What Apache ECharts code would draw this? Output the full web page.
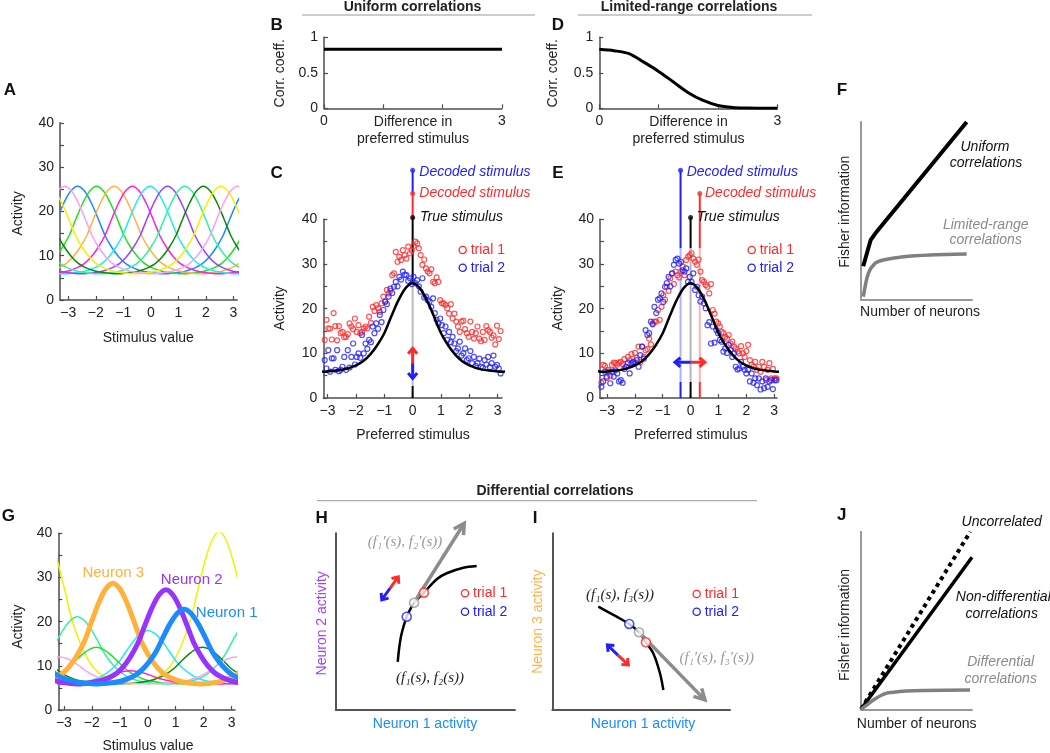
<!DOCTYPE html>
<html><head><meta charset="utf-8">
<script src="https://cdn.jsdelivr.net/npm/echarts@6/dist/echarts.min.js"></script>
<style>html,body{margin:0;padding:0;background:#fff}#c{width:1050px;height:753px}</style>
</head><body><div id="c"></div>
<script>
// ---------------- DATA ----------------
// shared tuning-curve profile: activity read at offsets from the preferred stimulus
const OFFS    = [0, 0.25, 0.5, 0.75, 1, 1.25, 1.5, 1.75, 2, 2.25, 2.5, 2.75, 3, 3.14];
const PROFILE = [25.7, 24.6, 21.9, 18.3, 14.5, 11.8, 9.7, 8.2, 7.3, 6.7, 6.3, 6.1, 5.95, 5.9];
const BASE = 5.9, PEAK0 = 25.7;

// Panel A
const A_CENTERS = [-2.66, -1.97, -1.33, -0.67, -0.03, 0.61, 1.24, 1.91, 2.55, 3.15];
const A_PEAKS   = [25.7, 25.7, 25.7, 25.7, 25.7, 25.7, 25.7, 25.7, 25.7, 25.7];
const STIM_TICKS = [-3, -2, -1, 0, 1, 2, 3];
const ACT_TICKS = [0, 5, 10, 15, 20, 25, 30, 35, 40];
const ACT_LABELS = [0, 10, 20, 30, 40];

// Panels B and D
const CORR_TICKS = [0, 0.5, 1];
const DIFF_TICKS = [0, 1, 2, 3];
const DIFF_LABELS = [0, 3];
const B_X = [0, 3];
const B_Y = [0.83, 0.83];
const D_X = [0, 0.25, 0.5, 0.75, 1, 1.25, 1.5, 1.75, 2, 2.25, 2.5, 2.75, 3];
const D_Y = [0.83, 0.81, 0.77, 0.65, 0.52, 0.37, 0.22, 0.11, 0.04, 0.012, 0.004, 0.001, 0];

// Panel C (uniform correlations): trial activities, preferred stimuli evenly spaced
const C_XRANGE = [-3.1, 3.1];
const C_T1 = [13.0,17.5,15.6,15.5,13.1,19.0,16.1,12.9,16.1,14.5,
  14.8,13.6,13.7,14.3,16.7,16.0,15.4,17.8,14.8,16.3,
  14.5,14.8,15.6,16.0,15.6,18.2,16.8,20.4,19.5,20.8,
  20.1,19.3,21.2,22.7,21.5,24.2,23.4,24.0,27.5,27.9,
  32.7,30.5,31.6,30.9,33.1,32.0,31.2,33.9,32.4,33.0,
  34.0,35.0,34.6,33.5,32.0,29.8,31.0,29.0,28.3,27.9,
  28.8,26.0,25.7,27.0,26.0,21.9,21.2,21.2,20.8,20.1,
  18.9,21.0,17.8,18.9,17.1,16.0,14.8,17.1,17.3,15.4,
  14.5,13.7,17.1,14.8,13.3,14.5,16.0,13.3,12.7,14.8,
  13.0,16.1,15.2,14.8,13.5,14.0,12.0,16.2,13.2,15.0];
const C_T2 = [8.5,6.6,10.7,5.9,8.9,8.9,6.3,10.7,6.0,6.3,
  7.0,9.2,6.3,10.7,6.8,9.2,12.2,7.5,9.2,10.0,
  9.0,14.1,10.0,12.2,11.0,13.0,12.5,16.0,14.5,16.7,
  15.5,18.6,17.0,19.7,21.6,21.0,22.7,24.5,23.5,24.9,
  26.0,25.0,27.1,26.5,28.3,27.6,27.5,26.2,26.8,25.5,
  27.1,25.7,26.4,25.0,23.8,26.8,22.5,22.7,21.9,21.6,
  20.4,22.3,19.0,17.5,16.7,17.8,16.3,14.5,16.0,13.0,
  14.8,12.5,13.7,12.2,10.5,11.1,12.6,9.5,10.0,11.1,
  8.5,8.9,10.5,7.8,9.2,7.2,7.8,8.8,7.0,6.8,
  8.5,7.5,9.2,6.9,7.8,9.5,7.0,7.4,6.6,5.5];
// Panel E (limited-range correlations)
const E_XRANGE = [-3.2, 3.08];
const E_T1 = [3.4,7.4,7.2,4.5,6.3,5.0,7.4,7.9,7.8,7.5,
  7.9,8.1,7.6,8.7,7.0,9.2,8.5,9.8,8.0,10.1,
  9.0,11.5,8.0,11.5,9.2,10.7,11.0,13.3,12.0,16.7,
  17.1,17.1,19.7,17.5,20.4,23.0,22.0,24.9,24.0,26.8,
  27.9,25.5,28.3,27.5,27.0,28.3,29.4,27.5,30.9,31.6,
  32.0,32.4,31.2,30.5,29.8,31.0,28.3,26.4,26.0,25.3,
  24.9,23.4,25.5,19.7,18.9,17.1,16.7,16.0,14.8,14.5,
  13.7,13.3,14.1,12.2,12.6,11.5,11.1,10.4,10.0,11.6,
  10.0,9.2,10.5,11.9,8.5,7.4,7.0,8.1,6.3,7.0,
  5.9,8.1,7.0,4.0,6.3,7.8,4.4,6.5,4.4,4.4];
const E_T2 = [2.5,3.7,5.9,4.8,5.9,3.3,5.9,4.8,6.2,5.5,
  3.7,4.0,3.4,6.5,7.0,7.8,5.5,7.8,8.1,7.8,
  8.5,7.0,9.6,11.5,8.8,15.2,14.1,14.5,17.1,16.5,
  20.4,19.0,22.0,22.3,23.4,21.5,24.9,25.7,27.1,25.0,
  27.9,29.8,30.9,31.2,30.1,30.5,28.6,28.3,29.0,26.0,
  27.1,26.0,27.9,24.2,24.9,23.0,21.6,22.7,21.2,20.1,
  16.3,17.0,12.2,16.0,12.4,15.2,14.5,13.0,12.6,10.4,
  11.1,10.1,11.9,10.7,9.2,10.0,7.0,6.4,6.6,8.1,
  7.0,6.3,5.5,6.3,3.7,5.5,3.4,4.4,2.9,4.4,
  1.9,3.7,2.2,4.4,2.5,3.7,4.0,2.0,4.0,4.0];
// stimulus markers: [true, decoded trial 1, decoded trial 2]
const C_STIM = [0, 0, 0];
const E_STIM = [0, 0.33, -0.36];
const MARK_Y = [40.4, 45.8, 51];
const C_ARROW = {x: 0, mid: 7.8, up: 11.1, down: 4.4};
const E_ARROW = {y: 8, mid: 0, right: 0.51, left: -0.56};

// Panel F (relative units)
const F_UNI_X = [2, 8.7, 14.1, 95.2];
const F_UNI_Y = [19, 33.7, 38.4, 100];
const F_LIM_X = [2.1, 6.6, 12.6, 20.1, 38.1, 62.2, 95.2];
const F_LIM_Y = [1.9, 15, 20.6, 22.5, 24.3, 25.3, 25.8];

// Panel G
const G_CENTERS = [2.55, -2.52, 0, -1.84, 1.96, 3.14, -0.62, -1.25, 0.65, 1.30];
const G_PEAKS   = [40.4, 21.1, 18.0, 14.2, 14.2, 12.0, 8.9, 28.7, 27.2, 22.8];

// Panels H and I (relative units)
const H_CURVE_X = [34.6, 35.5, 36.8, 39.6, 41.4, 43.7, 49.2, 56.3, 61.9, 71.2, 78.6];
const H_CURVE_Y = [27.3, 35.8, 43.4, 52.8, 56.6, 60.7, 66.4, 74.0, 77.4, 80.5, 81.5];
const H_PTS = {trial1: [49.2, 66.4], mean: [43.7, 60.7], trial2: [39.6, 52.8]};
const H_TANGENT = [43.7, 60.7, 71.7, 105.7];
const H_NOISE = {mid: [30.3, 68.9], red: [34.9, 75.4], blue: [25.7, 62.3]};
const I_CURVE_X = [25.9, 36.2, 43.3, 48.8, 52.7, 56.8, 60.6, 62.5];
const I_CURVE_Y = [58.5, 52.8, 48.7, 44.0, 38.3, 32.1, 20.8, 11.3];
const I_PTS = {trial1: [52.7, 38.3], mean: [48.8, 44.0], trial2: [43.3, 48.7]};
const I_TANGENT = [48.8, 44.0, 85.9, 5.7];
const I_NOISE = {mid: [36.9, 31.1], red: [42.8, 25.5], blue: [31.0, 36.8]};

// Panel J (relative units)
const J_UNC_X = [0, 98.5], J_UNC_Y = [0, 100];
const J_NON_X = [0, 100],  J_NON_Y = [0, 85.6];
const J_DIF_X = [0, 5.1, 11.1, 17.1, 24.6, 47.1, 98.2];
const J_DIF_Y = [0, 2.4, 5.2, 7.5, 9.3, 10.5, 10.9];

// ---------------- STYLE ----------------
const FF = '"Liberation Sans", Arial, sans-serif';
const SERIF = '"Liberation Serif", "DejaVu Serif", serif';
const AXC = '#4d4d4d';
const RED = '#ff2a2a', BLUE = '#2020ff';
const A_COLORS = ['#1e88ff','#22e022','#ffb347','#ff22dd','#22eaf0','#a040ff','#33f0a6','#0a8a0a','#f2f200','#ff9ef0'];
const G_COLORS = ['#f2f200','#33f0a6','#22eaf0','#22e022','#0a8a0a','#ff9ef0','#ff22dd','#ffb13c','#9933ff','#1a8cff'];
const G_WIDTHS = [1.5,1.5,1.5,1.5,1.5,1.5,1.5,5,5,5];

const zip = (xs, ys) => xs.map((x, i) => [x, ys[i]]);
const fmt = v => (v < 0 ? '\u2212' + (-v) : String(v));

function tuningCurve(center, peak, xmin, xmax) {
  const pts = [];
  for (const shift of [-2 * Math.PI, 0, 2 * Math.PI]) {
    for (let k = -(OFFS.length - 1); k <= OFFS.length - 1; k++) {
      const d = k < 0 ? -OFFS[-k] : OFFS[k];
      const x = center + shift + d;
      if (x < xmin - 0.6 || x > xmax + 0.6) continue;
      const v = PROFILE[Math.abs(k)];
      pts.push([x, BASE + (v - BASE) * (peak - BASE) / (PEAK0 - BASE)]);
    }
  }
  pts.sort((a, b) => a[0] - b[0]);
  const out = [];
  for (const p of pts) if (!out.length || p[0] - out[out.length - 1][0] > 0.03) out.push(p);
  return out;
}
function evenX(range, n) { return Array.from({length: n}, (_, i) => range[0] + i * (range[1] - range[0]) / (n - 1)); }

// ---------------- LAYOUT ----------------
const GRIDS = [
  [60, 122.8, 177.2, 177.2],   // A
  [324, 37.3, 178, 71],        // B
  [323.3, 219.3, 178.7, 178.7],// C
  [599.3, 37.3, 178, 71],      // D
  [600, 219.3, 177, 178.7],    // E
  [861, 122, 111, 178],        // F
  [58.3, 533.3, 176.7, 176.7], // G
  [335.7, 533.3, 179.3, 176.7],// H
  [552.3, 533.3, 177.7, 176.7],// I
  [861, 531.7, 111, 177.6]     // J
];

function axis(dim, gi, min, max, o) {
  o = o || {};
  const lc = o.lineColor || AXC;
  return {
    type: 'value', gridIndex: gi, min, max, position: dim === 'x' ? 'bottom' : 'left',
    axisLine: {show: true, onZero: false, lineStyle: {color: lc, width: o.lw || 1.5}},
    axisTick: o.ticks ? {show: true, inside: true, length: 4, customValues: o.ticks, lineStyle: {color: lc, width: 1.2}} : {show: false},
    axisLabel: o.labels ? {show: true, customValues: o.labels, margin: 6, fontSize: 14, fontFamily: FF, color: '#222', formatter: fmt} : {show: false},
    splitLine: {show: false}, minorTick: {show: false}, minorSplitLine: {show: false}, silent: true
  };
}
const xAxis = [], yAxis = [];
const stimX = {ticks: STIM_TICKS, labels: STIM_TICKS};
const actY = {ticks: ACT_TICKS, labels: ACT_LABELS};
xAxis.push(axis('x', 0, -3.3, 3.14, stimX));           yAxis.push(axis('y', 0, 0, 40, actY));
xAxis.push(axis('x', 1, 0, 3, {ticks: DIFF_TICKS, labels: DIFF_LABELS})); yAxis.push(axis('y', 1, 0, 1, {ticks: CORR_TICKS, labels: CORR_TICKS}));
xAxis.push(axis('x', 2, -3.15, 3.15, stimX));          yAxis.push(axis('y', 2, 0, 40, actY));
xAxis.push(axis('x', 3, 0, 3, {ticks: DIFF_TICKS, labels: DIFF_LABELS})); yAxis.push(axis('y', 3, 0, 1, {ticks: CORR_TICKS, labels: CORR_TICKS}));
xAxis.push(axis('x', 4, -3.25, 3.1, stimX));           yAxis.push(axis('y', 4, 0, 40, actY));
xAxis.push(axis('x', 5, 0, 100, {lineColor: '#999', lw: 2})); yAxis.push(axis('y', 5, 0, 100, {lineColor: '#999', lw: 2}));
xAxis.push(axis('x', 6, -3.2, 3.12, stimX));           yAxis.push(axis('y', 6, 0, 40, actY));
xAxis.push(axis('x', 7, 0, 100, {lineColor: '#555', lw: 2})); yAxis.push(axis('y', 7, 0, 100, {lineColor: '#555', lw: 2}));
xAxis.push(axis('x', 8, 0, 100, {lineColor: '#555', lw: 2})); yAxis.push(axis('y', 8, 0, 100, {lineColor: '#555', lw: 2}));
xAxis.push(axis('x', 9, 0, 100, {lineColor: '#999', lw: 2})); yAxis.push(axis('y', 9, 0, 100, {lineColor: '#999', lw: 2}));

// ---------------- SERIES ----------------
const series = [];
function line(gi, data, color, width, extra) {
  series.push(Object.assign({type: 'line', xAxisIndex: gi, yAxisIndex: gi, data, symbol: 'none', showSymbol: false,
    lineStyle: {color, width}, itemStyle: {color}, silent: true, z: 3}, extra || {}));
}
function hollow(gi, data, color, size, bw, fill, z) {
  series.push({type: 'scatter', xAxisIndex: gi, yAxisIndex: gi, data, symbol: 'circle', symbolSize: size,
    itemStyle: {color: fill || 'rgba(0,0,0,0)', borderColor: color, borderWidth: bw}, silent: true, z: z || 2, clip: false});
}
function arrow(gi, data, color, width, head, spread, z) {
  series.push({type: 'custom', coordinateSystem: 'cartesian2d', xAxisIndex: gi, yAxisIndex: gi, data, clip: false, silent: true, z: z || 6,
    encode: {x: [0, 2], y: [1, 3]},
    renderItem(params, api) {
      const p1 = api.coord([api.value(0), api.value(1)]);
      const p2 = api.coord([api.value(2), api.value(3)]);
      const a = Math.atan2(p2[1] - p1[1], p2[0] - p1[0]);
      const h1 = [p2[0] - head * Math.cos(a - spread), p2[1] - head * Math.sin(a - spread)];
      const h2 = [p2[0] - head * Math.cos(a + spread), p2[1] - head * Math.sin(a + spread)];
      return {type: 'group', children: [
        {type: 'line', shape: {x1: p1[0], y1: p1[1], x2: p2[0] - 1.5 * Math.cos(a), y2: p2[1] - 1.5 * Math.sin(a)}, style: {stroke: color, lineWidth: width}},
        {type: 'polyline', shape: {points: [h1, p2, h2]}, style: {stroke: color, lineWidth: width, fill: null, lineJoin: 'miter'}}
      ]};
    }});
}

// A
A_CENTERS.forEach((c, i) => line(0, tuningCurve(c, A_PEAKS[i], -3.3, 3.14), A_COLORS[i], 1.5, {smooth: 0.3}));
// B, D
line(1, zip(B_X, B_Y), '#000', 3);
line(3, zip(D_X, D_Y), '#000', 3, {smooth: 0.3});

// C and E stimulus lines, dots
const MARK_COLORS = ['#000', RED, BLUE];
const LIGHT = ['#b5b5b5', '#ffb0b0', '#b0b0ff'];
// C
line(2, [[C_STIM[0], 2.7], [C_STIM[0], 25.7]], '#bdbdbd', 2, {z: 1, clip: false});
line(2, [[C_STIM[0], 0], [C_STIM[0], 2.7]], '#000', 2, {z: 1, clip: false});
line(2, [[C_STIM[0], 25.7], [C_STIM[0], MARK_Y[0]]], '#000', 2, {z: 1, clip: false});
line(2, [[C_STIM[1], MARK_Y[0]], [C_STIM[1], MARK_Y[1]]], RED, 2, {z: 1, clip: false});
line(2, [[C_STIM[2], MARK_Y[1]], [C_STIM[2], MARK_Y[2]]], BLUE, 2, {z: 1, clip: false});
// E
E_STIM.forEach((x, k) => {
  line(4, [[x, MARK_Y[k]], [x, 33.5]], MARK_COLORS[k], 2, {z: 1, clip: false});
  line(4, [[x, 33.5], [x, 3.6]], LIGHT[k], 2, {z: 1, clip: false});
  line(4, [[x, 3.6], [x, 0]], MARK_COLORS[k], 2, {z: 1, clip: false});
});
// trial scatter + mean curve
const CX = evenX(C_XRANGE, C_T1.length), EX = evenX(E_XRANGE, E_T1.length);
hollow(2, zip(CX, C_T1), RED, 5, 1.2);
hollow(2, zip(CX, C_T2), BLUE, 5, 1.2);
line(2, tuningCurve(0, PEAK0, -3.15, 3.15), '#000', 2.5, {smooth: 0.3, z: 4});
hollow(4, zip(EX, E_T1), RED, 5, 1.2);
hollow(4, zip(EX, E_T2), BLUE, 5, 1.2);
line(4, tuningCurve(0, PEAK0, -3.25, 3.1), '#000', 2.5, {smooth: 0.3, z: 4});
// marker dots
[2, 4].forEach(gi => {
  const S = gi === 2 ? C_STIM : E_STIM;
  S.forEach((x, k) => series.push({type: 'scatter', xAxisIndex: gi, yAxisIndex: gi, data: [[x, MARK_Y[k]]], symbol: 'circle', symbolSize: 5,
    itemStyle: {color: MARK_COLORS[k]}, clip: false, silent: true, z: 5}));
});
// noise arrows
arrow(2, [[C_ARROW.x, C_ARROW.mid, C_ARROW.x, C_ARROW.up]], RED, 3, 7, 0.7);
arrow(2, [[C_ARROW.x, C_ARROW.mid, C_ARROW.x, C_ARROW.down]], BLUE, 3, 7, 0.7);
arrow(4, [[E_ARROW.mid, E_ARROW.y, E_ARROW.right, E_ARROW.y]], RED, 3, 7, 0.7);
arrow(4, [[E_ARROW.mid, E_ARROW.y, E_ARROW.left, E_ARROW.y]], BLUE, 3, 7, 0.7);

// F
line(5, zip(F_UNI_X, F_UNI_Y), '#000', 4, {clip: false});
line(5, zip(F_LIM_X, F_LIM_Y), '#808080', 3.5, {smooth: 0.3, clip: false});

// G
G_CENTERS.forEach((c, i) => line(6, tuningCurve(c, G_PEAKS[i], -3.2, 3.12), G_COLORS[i], G_WIDTHS[i], {smooth: 0.3, z: i >= 7 ? 4 : 3}));

// H
line(7, zip(H_CURVE_X, H_CURVE_Y), '#000', 2.5, {smooth: 0.3});
arrow(7, [H_TANGENT], '#8c8c8c', 3.5, 12, 0.5, 4);
arrow(7, [[H_NOISE.mid[0], H_NOISE.mid[1], H_NOISE.red[0], H_NOISE.red[1]]], RED, 3, 7, 0.7);
arrow(7, [[H_NOISE.mid[0], H_NOISE.mid[1], H_NOISE.blue[0], H_NOISE.blue[1]]], BLUE, 3, 7, 0.7);
hollow(7, [H_PTS.trial1], RED, 9, 1.6, '#fff', 7);
hollow(7, [H_PTS.mean], '#999', 9, 1.6, '#fff', 7);
hollow(7, [H_PTS.trial2], BLUE, 9, 1.6, '#fff', 7);
// I
line(8, zip(I_CURVE_X, I_CURVE_Y), '#000', 2.5, {smooth: 0.3});
arrow(8, [I_TANGENT], '#8c8c8c', 3.5, 12, 0.5, 4);
arrow(8, [[I_NOISE.mid[0], I_NOISE.mid[1], I_NOISE.red[0], I_NOISE.red[1]]], RED, 3, 7, 0.7);
arrow(8, [[I_NOISE.mid[0], I_NOISE.mid[1], I_NOISE.blue[0], I_NOISE.blue[1]]], BLUE, 3, 7, 0.7);
hollow(8, [I_PTS.trial1], RED, 9, 1.6, '#fff', 7);
hollow(8, [I_PTS.mean], '#999', 9, 1.6, '#fff', 7);
hollow(8, [I_PTS.trial2], BLUE, 9, 1.6, '#fff', 7);

// J
line(9, zip(J_UNC_X, J_UNC_Y), '#000', 4, {clip: false, lineStyle: {color: '#000', width: 4, type: [4, 4]}});
line(9, zip(J_NON_X, J_NON_Y), '#000', 3.5, {clip: false});
line(9, zip(J_DIF_X, J_DIF_Y), '#808080', 3.5, {smooth: 0.3, clip: false});

// ---------------- TEXT ----------------
const graphic = [];
function txt(text, x, y, o) {
  o = o || {};
  const al = o.align || 'center';
  graphic.push({type: 'text', x, y, rotation: o.rot || 0, silent: true, z: 100,
    style: {text, fill: o.color || '#222', font: o.font || ('14px ' + FF), align: al, textAlign: al, verticalAlign: 'middle', textVerticalAlign: 'middle'}});
}
function hline(x1, x2, y) {
  graphic.push({type: 'line', silent: true, z: 100, shape: {x1, y1: y, x2, y2: y}, style: {stroke: '#999', lineWidth: 1}});
}
function key(cx, cy, color, label) {
  graphic.push({type: 'circle', silent: true, z: 100, shape: {cx, cy, r: 3.6}, style: {stroke: color, lineWidth: 1.3, fill: null}});
  txt(label, cx + 8, cy, {align: 'left', color});
}
const BOLD = 'bold 14px ' + FF, LET = 'bold 17px ' + FF, IT = 'italic 14px ' + FF, ROT = Math.PI / 2;
const MATH = 'italic 15px ' + SERIF;

txt('Uniform correlations', 412.5, 7, {font: BOLD}); hline(302, 535, 15);
txt('Limited-range correlations', 689, 7, {font: BOLD}); hline(578, 812, 15);
txt('Differential correlations', 555, 491, {font: BOLD}); hline(317, 757, 500.7);

[['A', 10, 90], ['B', 276.7, 25], ['C', 276.7, 173.3], ['D', 558, 25], ['E', 558, 173], ['F', 842, 90],
 ['G', 8.3, 516.7], ['H', 321.7, 518], ['I', 535, 518], ['J', 841.7, 515]].forEach(l => txt(l[0], l[1], l[2], {font: LET, color: '#111'}));

// A
txt('Activity', 18.3, 213.3, {rot: ROT}); txt('Stimulus value', 148.3, 338.3);
// B, D
txt('Corr. coeff.', 280, 73.3, {rot: ROT}); txt('Difference in', 413, 121.7); txt('preferred stimulus', 413, 139);
txt('Corr. coeff.', 553.3, 73.3, {rot: ROT}); txt('Difference in', 688.5, 121.7); txt('preferred stimulus', 688.5, 139);
// C
txt('Activity', 280, 308.3, {rot: ROT}); txt('Preferred stimulus', 413, 435);
txt('Decoded stimulus', 419.3, 171.7, {align: 'left', font: IT, color: BLUE});
txt('Decoded stimulus', 419.3, 193.3, {align: 'left', font: IT, color: RED});
txt('True stimulus', 420, 217.3, {align: 'left', font: IT, color: '#111'});
key(462.7, 250, RED, 'trial 1'); key(462.7, 267.7, BLUE, 'trial 2');
// E
txt('Activity', 558.3, 308.3, {rot: ROT}); txt('Preferred stimulus', 690.7, 435);
txt('Decoded stimulus', 686.7, 171.7, {align: 'left', font: IT, color: BLUE});
txt('Decoded stimulus', 705, 193.3, {align: 'left', font: IT, color: RED});
txt('True stimulus', 696.7, 217.3, {align: 'left', font: IT, color: '#111'});
key(751.7, 250, RED, 'trial 1'); key(751.7, 267.7, BLUE, 'trial 2');
// F
txt('Fisher information', 845, 211.7, {rot: ROT}); txt('Number of neurons', 920, 311.7);
txt('Uniform', 985, 146.7, {font: IT, color: '#111'}); txt('correlations', 986, 163.3, {font: IT, color: '#111'});
txt('Limited-range', 985.7, 225, {font: IT, color: '#8a8a8a'}); txt('correlations', 985.7, 240, {font: IT, color: '#8a8a8a'});
// G
txt('Activity', 18.3, 626.7, {rot: ROT}); txt('Stimulus value', 148, 746);
txt('Neuron 3', 113.3, 573.3, {font: '15px ' + FF, color: '#ffb13c'});
txt('Neuron 2', 191.7, 580, {font: '15px ' + FF, color: '#9933ff'});
txt('Neuron 1', 226.7, 613.3, {font: '15px ' + FF, color: '#1a8cff'});
// H
txt('Neuron 2 activity', 321.7, 623.3, {rot: ROT, color: '#a040ff'}); txt('Neuron 1 activity', 425, 724, {color: '#1a8cff'});
txt('(f\u2081\u2032(s), f\u2082\u2032(s))', 405, 541.7, {font: MATH, color: '#999'});
txt('(f\u2081(s), f\u2082(s))', 430, 678.3, {font: MATH, color: '#222'});
key(465, 593.3, RED, 'trial 1'); key(465, 611.7, BLUE, 'trial 2');
// I
txt('Neuron 3 activity', 538.3, 621.7, {rot: ROT, color: '#ffb347'}); txt('Neuron 1 activity', 643, 724, {color: '#1a8cff'});
txt('(f\u2081(s), f\u2083(s))', 620, 595, {font: MATH, color: '#222'});
txt('(f\u2081\u2032(s), f\u2083\u2032(s))', 716.7, 658.3, {font: MATH, color: '#999'});
key(696.7, 594, RED, 'trial 1'); key(696.7, 611.7, BLUE, 'trial 2');
// J
txt('Fisher information', 845, 625, {rot: ROT}); txt('Number of neurons', 916.7, 724);
txt('Uncorrelated', 1001.7, 521.7, {font: IT, color: '#111'});
txt('Non-differential', 1003.3, 596.7, {font: IT, color: '#111'}); txt('correlations', 1001.7, 614.3, {font: IT, color: '#111'});
txt('Differential', 1000.7, 661.7, {font: IT, color: '#8a8a8a'}); txt('correlations', 1000.7, 679, {font: IT, color: '#8a8a8a'});

// ---------------- CHART ----------------
const chart = echarts.init(document.getElementById('c'), null, {renderer: 'canvas', width: 1050, height: 753});
chart.setOption({
  animation: false,
  backgroundColor: '#fff',
  grid: GRIDS.map(g => ({left: g[0], top: g[1], width: g[2], height: g[3], containLabel: false, outerBoundsMode: 'none', show: false})),
  xAxis, yAxis, series, graphic,
  tooltip: {show: false}
});
</script></body></html>
